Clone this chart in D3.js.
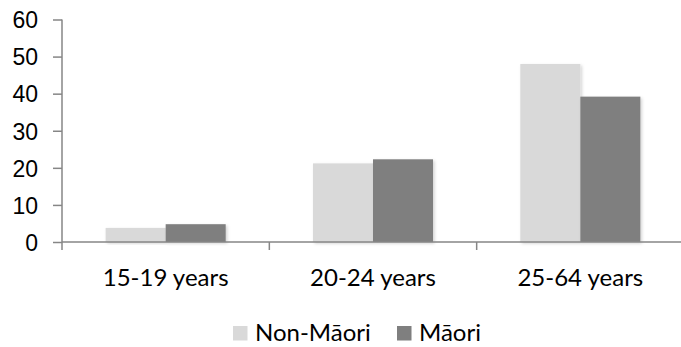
<!DOCTYPE html>
<html>
<head>
<meta charset="utf-8">
<script src="https://cdn.jsdelivr.net/npm/d3@7"></script>
<style>
  html, body { margin: 0; padding: 0; background: #fff; }
  svg { display: block; font-family: Lato, "Open Sans", sans-serif; }
</style>
</head>
<body>
<svg id="chart" width="681" height="347"></svg>
<script>
// Age groups along the x axis
const categories = ["15-19 years", "20-24 years", "25-64 years"];
// Series names, shown in the legend
const seriesNames = ["Non-Māori", "Māori"];
// Values per age group for each series
const nonMaori = [3.8, 21.2, 48.0];
const maori = [4.8, 22.3, 39.2];
// Y axis ticks
const yTicks = [0, 10, 20, 30, 40, 50, 60];
const seriesColors = ["#d9d9d9", "#7f7f7f"];

(function () {
const svg = d3.select("#chart");
const plotLeft = 62, plotRight = 684, plotTop = 19.5, plotBottom = 242;
const axisColor = "#868686";
const fontSize = "24px";

const x = d3.scaleBand().domain(categories).range([plotLeft, plotRight]).padding(0);
const xs = d3.scaleBand().domain(seriesNames).range([0, x.bandwidth()])
  .paddingInner(0).paddingOuter(0.727);
const y = d3.scaleLinear().domain([0, 60]).range([plotBottom, plotTop]);

// Soft drop shadow under each bar
const defs = svg.append("defs");
const f = defs.append("filter").attr("id", "shadow")
  .attr("x", "-20%").attr("y", "-20%").attr("width", "140%").attr("height", "140%");
f.append("feDropShadow").attr("dx", 1.5).attr("dy", 1.5).attr("stdDeviation", 1.5)
  .attr("flood-color", "#000").attr("flood-opacity", 0.18);

// Bars
const rows = categories.map((c, i) => ({ cat: c, vals: [nonMaori[i], maori[i]] }));
const g = svg.append("g");
rows.forEach(r => {
  r.vals.forEach((v, j) => {
    g.append("rect")
      .attr("x", x(r.cat) + xs(seriesNames[j]))
      .attr("y", y(v))
      .attr("width", xs.bandwidth())
      .attr("height", y(0) - y(v))
      .attr("fill", seriesColors[j])
      .attr("filter", "url(#shadow)");
  });
});

// Y axis
const yAxis = d3.axisLeft(y).tickValues(yTicks).tickSize(9).tickPadding(15);
const ya = svg.append("g").attr("transform", `translate(${plotLeft},0)`).call(yAxis);
ya.select(".domain").attr("stroke", axisColor).attr("stroke-width", 1.5)
  .attr("d", `M0,${plotTop}V${plotBottom}`);
ya.selectAll(".tick line").attr("stroke", axisColor).attr("stroke-width", 1.5)
  .attr("x1", -9).attr("x2", 0);
ya.selectAll(".tick text").attr("fill", "#000").style("font-size", "23px")
  .attr("x", -24).attr("dy", "0.36em");

// X axis: baseline with boundary ticks between groups
const xa = svg.append("g");
xa.append("line").attr("x1", plotLeft).attr("x2", 681).attr("y1", plotBottom).attr("y2", plotBottom)
  .attr("stroke", axisColor).attr("stroke-width", 1.5);
categories.slice(1).forEach(c => {
  xa.append("line").attr("x1", x(c)).attr("x2", x(c)).attr("y1", plotBottom).attr("y2", plotBottom + 8)
    .attr("stroke", axisColor).attr("stroke-width", 1.5);
});
xa.append("line").attr("x1", plotLeft).attr("x2", plotLeft).attr("y1", plotBottom).attr("y2", plotBottom + 8)
  .attr("stroke", axisColor).attr("stroke-width", 1.5);
categories.forEach(c => {
  xa.append("text").attr("x", x(c) + x.bandwidth() / 2).attr("y", 286)
    .attr("text-anchor", "middle").style("font-size", fontSize).attr("fill", "#000").text(c);
});

// Legend
const legend = svg.append("g");
const legendItems = [{ name: seriesNames[0], x: 233 }, { name: seriesNames[1], x: 397 }];
legendItems.forEach((d, i) => {
  legend.append("rect").attr("x", d.x).attr("y", 326).attr("width", 14.5).attr("height", 14.5)
    .attr("fill", seriesColors[i]);
  legend.append("text").attr("x", d.x + 22).attr("y", 341).style("font-size", fontSize)
    .attr("fill", "#000").text(d.name);
});
})();
</script>
</body>
</html>
